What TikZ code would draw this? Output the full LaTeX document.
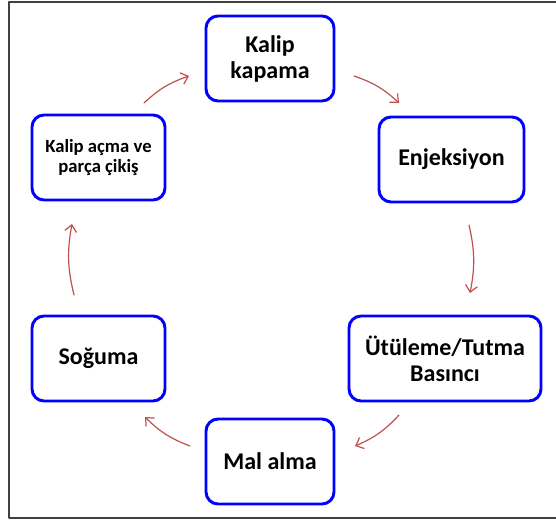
\documentclass[tikz,border=0pt]{standalone}
\usepackage{fontspec}
\setmainfont{Carlito}
\usetikzlibrary{arrows.meta}
\definecolor{boxblue}{RGB}{0,0,255}
\definecolor{flowred}{RGB}{192,80,77}
\begin{document}
\begin{tikzpicture}[x=0.75pt, y=-0.75pt, line join=round, line cap=round,
	stepbox/.style={draw=boxblue, line width=2.2pt, rounded corners=9pt, align=center,
		minimum height=63.75pt, inner sep=2pt, font=\fontsize{18}{19.5}\selectfont\bfseries},
	flow/.style={draw=flowred, line width=0.9pt, -{Straight Barb[length=5pt,width=9pt]}}]
	\useasboundingbox (0,0) rectangle (556,520);
	\draw[line width=1.3pt, black!75] (556,2) -- (9,2) -- (9,518) -- (556,518);
	% steps of the cycle
	\node[stepbox, minimum width=96pt] (kapama) at (270,58.5) {Kalip\\kapama};
	\node[stepbox, minimum width=108.75pt] (enjeksiyon) at (451.5,159.5) {Enjeksiyon};
	\node[stepbox, minimum width=144pt] (utuleme) at (445,358.5) {Ütüleme/Tutma\\Basıncı};
	\node[stepbox, minimum width=96pt] (malalma) at (270,461.5) {Mal alma};
	\node[stepbox, minimum width=99.75pt] (soguma) at (98.5,358.5) {Soğuma};
	\node[stepbox, minimum width=99.75pt, font=\fontsize{14}{15}\selectfont\bfseries] (acma) at (98.5,157.5) {Kalip açma ve\\parça çikiş};
	% arrow ends
	\path
	(144,103) coordinate (s1) (189,76) coordinate (e1)
	(354,76) coordinate (s2) (399,103) coordinate (e2)
	(469,225) coordinate (s3) (470,293) coordinate (e3)
	(399,415) coordinate (s4) (355,446) coordinate (e4)
	(190,446) coordinate (s5) (145,417) coordinate (e5)
	(74,295) coordinate (s6) (72,224) coordinate (e6)
	;
	\foreach \i in {1,...,6} \draw[flow] (s\i) to[bend left=12] (e\i);
\end{tikzpicture}
\end{document}
